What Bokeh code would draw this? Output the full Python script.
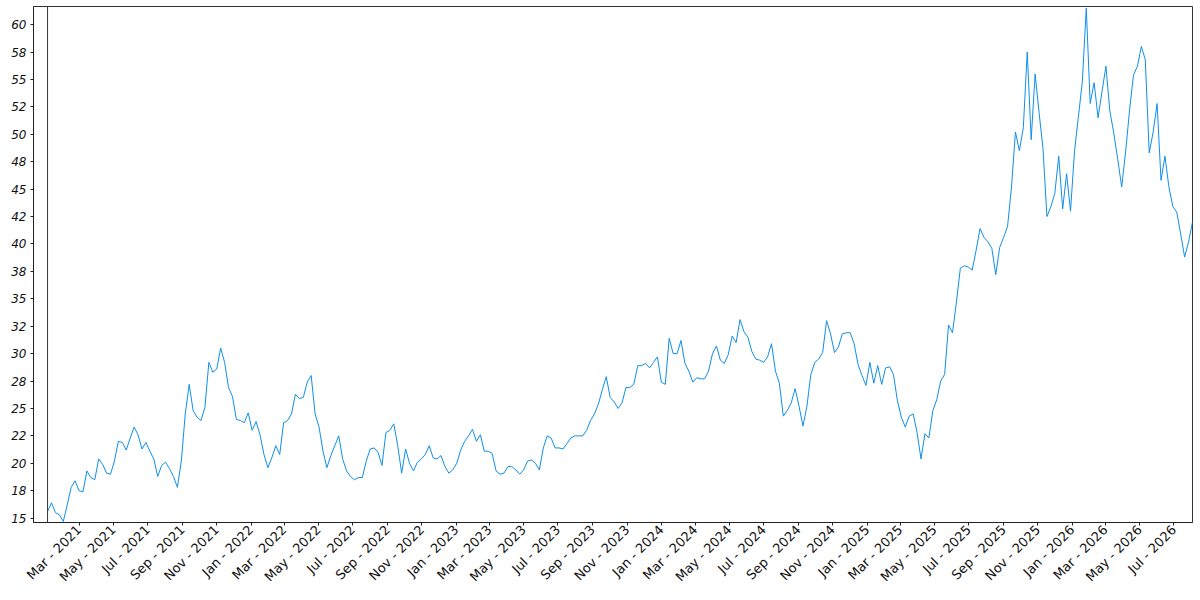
import math
import pandas as pd
from bokeh.plotting import figure
from bokeh.models import (ColumnDataSource, Range1d, FixedTicker, Span,
                          DatetimeTickFormatter)
from bokeh.embed import file_html
from bokeh.resources import INLINE

# ---- data (weekly samples) ----
start_date = "2021-01-04"
values = [
    15.6, 16.4, 15.5, 15.3, 14.7, 16.2, 17.8, 18.4, 17.5, 17.4,
    19.3, 18.7, 18.5, 20.4, 19.9, 19.1, 19.0, 20.2, 22.0, 21.9,
    21.2, 22.3, 23.3, 22.6, 21.3, 21.9, 21.1, 20.4, 18.8, 19.8,
    20.1, 19.5, 18.8, 17.8, 20.2, 24.5, 27.2, 24.8, 24.2, 23.9,
    25.1, 29.2, 28.3, 28.6, 30.5, 29.2, 26.9, 26.1, 24.0, 23.9,
    23.7, 24.6, 23.0, 23.8, 22.6, 20.8, 19.6, 20.5, 21.6, 20.8,
    23.7, 23.9, 24.5, 26.3, 25.9, 26.0, 27.4, 28.0, 24.5, 23.3,
    21.1, 19.6, 20.7, 21.6, 22.5, 20.4, 19.3, 18.8, 18.5, 18.7,
    18.7, 20.2, 21.3, 21.4, 21.0, 19.8, 22.8, 23.0, 23.6, 21.6,
    19.1, 21.3, 20.0, 19.3, 20.1, 20.4, 20.8, 21.6, 20.5, 20.4,
    20.7, 19.7, 19.1, 19.4, 20.0, 21.2, 22.0, 22.5, 23.1, 22.0,
    22.6, 21.1, 21.1, 20.9, 19.3, 19.0, 19.1, 19.7, 19.7, 19.4,
    19.0, 19.4, 20.2, 20.3, 20.0, 19.4, 21.4, 22.5, 22.3, 21.4,
    21.4, 21.3, 21.8, 22.3, 22.5, 22.5, 22.5, 23.0, 23.9, 24.5,
    25.4, 26.7, 27.9, 26.0, 25.6, 25.0, 25.5, 26.9, 26.9, 27.2,
    28.9, 28.9, 29.1, 28.7, 29.2, 29.7, 27.4, 27.2, 31.4, 30.0,
    30.0, 31.2, 29.1, 28.4, 27.4, 27.8, 27.7, 27.7, 28.4, 30.0,
    30.7, 29.4, 29.1, 29.9, 31.6, 31.0, 33.1, 32.0, 31.5, 30.2,
    29.5, 29.4, 29.2, 29.7, 30.9, 28.4, 27.3, 24.3, 24.8, 25.5,
    26.8, 25.2, 23.4, 25.2, 28.1, 29.2, 29.5, 30.1, 33.0, 31.8,
    30.1, 30.6, 31.8, 31.9, 31.9, 30.9, 29.0, 28.0, 27.1, 29.2,
    27.3, 28.9, 27.2, 28.7, 28.8, 28.1, 25.7, 24.2, 23.3, 24.3,
    24.5, 22.8, 20.4, 22.7, 22.3, 24.8, 25.8, 27.5, 28.1, 32.6,
    31.9, 34.7, 37.8, 38.0, 37.9, 37.6, 39.4, 41.4, 40.6, 40.2,
    39.6, 37.2, 39.7, 40.6, 41.6, 45.2, 50.2, 48.5, 50.6, 57.5,
    49.5, 55.5, 52.0, 48.7, 42.5, 43.4, 44.6, 48.0, 43.2, 46.4,
    43.0, 48.4, 51.6, 54.8, 61.5, 52.8, 54.7, 51.5, 53.9, 56.2,
    52.1, 50.1, 47.7, 45.2, 48.4, 52.2, 55.4, 56.2, 58.0, 56.8,
    48.3, 50.2, 52.8, 45.8, 48.0, 45.2, 43.4, 42.9, 40.9, 38.8,
    40.2, 42.0,
]
y_ticks = [15, 17.5, 20, 22.5, 25, 27.5, 30, 32.5, 35, 37.5, 40,
           42.5, 45, 47.5, 50, 52.5, 55, 57.5, 60]
y_labels = ["15", "18", "20", "22", "25", "28", "30", "32", "35", "38", "40",
            "42", "45", "48", "50", "52", "55", "58", "60"]
first_x_tick = "2021-03-01"
x_tick_step = "2MS"

dates = pd.date_range(start_date, periods=len(values), freq="7D")
src = ColumnDataSource(dict(date=dates, value=values))

tick_dates = pd.date_range(first_x_tick, dates[-1], freq=x_tick_step)
x_ticks = [t.timestamp() * 1000 for t in tick_dates]

FONT = "DejaVu Sans"
# empty stretch left of the data so the y axis sits apart from the data box
left_pad = pd.Timedelta(days=25)

p = figure(width=1198, height=598, x_axis_type="datetime",
           output_backend="svg", toolbar_location=None,
           x_range=Range1d(dates[0] - left_pad, dates[-1]),
           y_range=Range1d(min(values) - 0.1, max(values) + 0.15),
           min_border_left=33, min_border_right=6, min_border_top=6,
           min_border_bottom=76)
p.grid.visible = False
p.outline_line_color = "#333333"
p.outline_line_width = 1
p.background_fill_color = "white"
p.border_fill_color = "white"

# left edge of the data box
p.add_layout(Span(location=dates[0], dimension="height",
                  line_color="#333333", line_width=1))

p.line(x="date", y="value", source=src, line_color="#0f8fe8", line_width=1)

# x axis
xa = p.xaxis[0]
xa.ticker = FixedTicker(ticks=x_ticks)
fmt = "%b - %Y"
xa.formatter = DatetimeTickFormatter(months=fmt, years=fmt, days=fmt,
                                     hours=fmt, minutes=fmt)
xa.major_label_orientation = math.pi / 4
xa.major_label_text_font = FONT
xa.major_label_text_font_size = "13px"
xa.major_label_text_color = "#111111"
xa.major_tick_out = 3
xa.major_tick_in = 0
xa.minor_tick_line_color = None
xa.axis_line_color = "#222222"
xa.major_tick_line_color = "#222222"
xa.major_label_standoff = 2

# y axis
ya = p.yaxis[0]
ya.ticker = FixedTicker(ticks=y_ticks)
ya.major_label_overrides = dict(zip(y_ticks, y_labels))
ya.major_label_text_font = FONT
ya.major_label_text_font_size = "12px"
ya.major_label_text_font_style = "italic"
ya.major_label_text_color = "#111111"
ya.major_tick_out = 3
ya.major_tick_in = 0
ya.minor_tick_line_color = None
ya.axis_line_color = "#222222"
ya.major_tick_line_color = "#222222"
ya.major_label_standoff = 4

open("out.html", "w").write(file_html(p, INLINE))
